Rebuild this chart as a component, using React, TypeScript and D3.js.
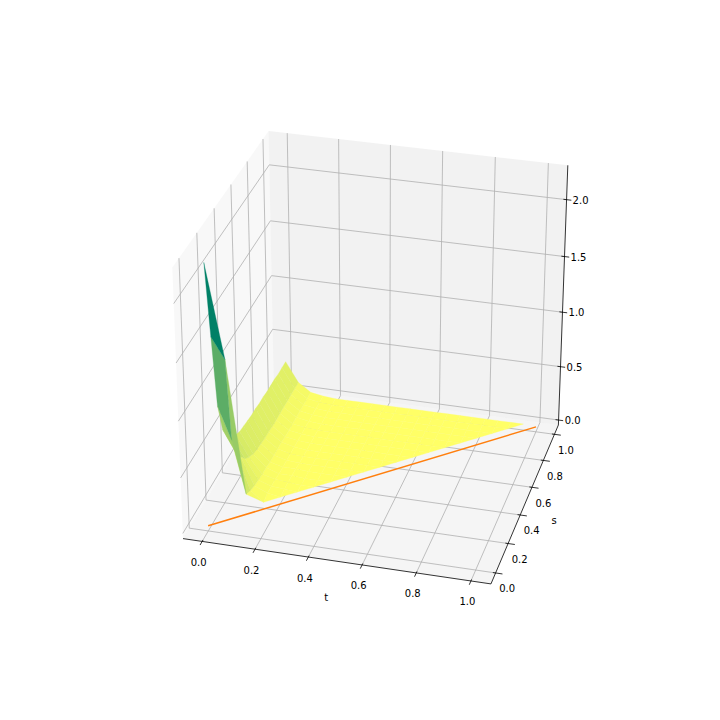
import React from 'react'
import * as d3 from 'd3'

const size = 720

// grid of the surface, only s > t exists
const tValues = [0, 0.05, 0.1, 0.15, 0.2, 0.25, 0.3, 0.35, 0.4, 0.45, 0.5, 0.55, 0.6, 0.65, 0.7, 0.75, 0.8, 0.85, 0.9, 0.95]
const sValues = [0.05, 0.1, 0.15, 0.2, 0.25, 0.3, 0.35, 0.4, 0.45, 0.5, 0.55, 0.6, 0.65, 0.7, 0.75, 0.8, 0.85, 0.9, 0.95, 1]

// z for each t, first value is at s = t + 0.05
const zRows = [
  [2.23, 1.55, 0.89, 0.62, 0.5, 0.43, 0.39, 0.36, 0.35, 0.34, 0.33, 0.33, 0.32, 0.32, 0.31, 0.31, 0.31, 0.3, 0.3, 0.3],
  [1.37, 0.6, 0.42, 0.33, 0.25, 0.2, 0.17, 0.15, 0.14, 0.13, 0.13, 0.12, 0.12, 0.12, 0.12, 0.12, 0.12, 0.12, 0.12],
  [0.13, 0.1, 0.08, 0.07, 0.06, 0.06, 0.05, 0.05, 0.05, 0.05, 0.04, 0.04, 0.04, 0.04, 0.04, 0.04, 0.04, 0.04],
  [0.01, 0.03, 0.03, 0.03, 0.02, 0.02, 0.02, 0.02, 0.02, 0.02, 0.02, 0.02, 0.02, 0.02, 0.02, 0.02, 0.02],
  [0.01, 0.02, 0.02, 0.02, 0.02, 0.01, 0.01, 0.01, 0.01, 0.01, 0.01, 0.01, 0.01, 0.01, 0.01, 0.01],
  [0.01, 0.01, 0.01, 0.01, 0.01, 0.01, 0.01, 0.01, 0.01, 0.01, 0.01, 0.01, 0.01, 0.01, 0.01],
  [0.01, 0.01, 0.01, 0.01, 0.01, 0.01, 0.01, 0.01, 0.01, 0.01, 0.01, 0.01, 0.01, 0.01],
  [0.01, 0.01, 0.01, 0.01, 0.01, 0.01, 0.01, 0.01, 0.01, 0.01, 0.01, 0.01, 0.01],
  [0.01, 0.01, 0.01, 0.01, 0.01, 0.01, 0.01, 0.01, 0.01, 0.01, 0.01, 0.01],
  [0.01, 0.01, 0.01, 0.01, 0.01, 0.01, 0.01, 0.01, 0.01, 0.01, 0.01],
  [0.01, 0.01, 0.01, 0.01, 0.01, 0.01, 0.01, 0.01, 0.01, 0.01],
  [0.01, 0.01, 0.01, 0.01, 0.01, 0.01, 0.01, 0.01, 0.01],
  [0.01, 0.01, 0.01, 0.01, 0.01, 0.01, 0.01, 0.01],
  [0.01, 0.01, 0.01, 0.01, 0.01, 0.01, 0.01],
  [0.01, 0.01, 0.01, 0.01, 0.01, 0.01],
  [0.01, 0.01, 0.01, 0.01, 0.01],
  [0.01, 0.01, 0.01, 0.01],
  [0.01, 0.01, 0.01],
  [0.01, 0.01],
  [0.01],
]

// orange line on the floor
const lineT = [0, 1]
const lineS = [0, 1]
const lineZ = [0, 0]

const tTicks = [0, 0.2, 0.4, 0.6, 0.8, 1]
const sTicks = [0, 0.2, 0.4, 0.6, 0.8, 1]
const zTicks = [0, 0.5, 1, 1.5, 2]

const elev = (30 * Math.PI) / 180
const azim = (-75 * Math.PI) / 180
const dist = 10

const tLim = [-0.05, 1.05]
const sLim = [-0.05, 1.05]
const zLim = [0, 2.25]

// panes stick out 1/48 past the limits, like mplot3d
const pad = (l: number[]) => [l[0] - (l[1] - l[0]) / 48, l[1] + (l[1] - l[0]) / 48]
const [t0, t1] = pad(tLim)
const [s0, s1] = pad(sLim)
const [z0, z1] = pad(zLim)

const tScale = d3.scaleLinear().domain(tLim).range([-0.5, 0.5])
const sScale = d3.scaleLinear().domain(sLim).range([-0.5, 0.5])
const zScale = d3.scaleLinear().domain(zLim).range([-0.5, 0.5])
const screenX = d3.scaleLinear().domain([-0.095, 0.09]).range([90, 648])
const screenY = d3.scaleLinear().domain([-0.095, 0.09]).range([630, 86.4])

const n = [Math.cos(elev) * Math.cos(azim), Math.cos(elev) * Math.sin(azim), Math.sin(elev)]
const u = [-Math.sin(azim), Math.cos(azim), 0]
const v = [n[1] * u[2] - n[2] * u[1], n[2] * u[0] - n[0] * u[2], n[0] * u[1] - n[1] * u[0]]
const dot = (a: number[], b: number[]) => a[0] * b[0] + a[1] * b[1] + a[2] * b[2]

type P3 = [number, number, number]

const depth = (p: P3) => dist - dot(n, [tScale(p[0]), sScale(p[1]), zScale(p[2])])
const project = (p: P3): [number, number] => {
  const w = [tScale(p[0]), sScale(p[1]), zScale(p[2])]
  const d = dist - dot(n, w)
  return [screenX(dot(u, w) / d), screenY(dot(v, w) / d)]
}

const line3 = (pts: P3[], close = false) => d3.line()(pts.map(project)) + (close ? 'Z' : '')

// one polygon per grid cell, the cell next to the diagonal is a triangle
const zAt = (i: number, j: number) => {
  const row = zRows[i]
  const k = j - i
  return row && k >= 0 ? row[k] : undefined
}
const cells: { pts: P3[]; avg: number; far: number }[] = []
tValues.forEach((t, i) => {
  sValues.forEach((s, j) => {
    const corners: [number, number][] = [[i, j], [i + 1, j], [i + 1, j + 1], [i, j + 1]]
    const pts: P3[] = []
    corners.forEach(([a, b]) => {
      const z = zAt(a, b)
      if (z !== undefined && a < tValues.length && b < sValues.length) pts.push([tValues[a], sValues[b], z])
    })
    if (pts.length < 3) return
    cells.push({
      pts,
      avg: d3.mean(pts, p => p[2]) as number,
      far: d3.mean(pts, depth) as number,
    })
  })
})
cells.sort((a, b) => b.far - a.far)

// summer_r, scaled on the polygon averages
const colorNorm = d3.scaleLinear().domain(d3.extent(cells, c => c.avg) as [number, number]).range([0, 1])
const summerR = (z: number) => {
  const c = colorNorm(z)
  return d3.rgb(255 * (1 - c), 255 * (1 - 0.5 * c), 102).formatHex()
}

const gridColor = '#b0b0b0'

export default function App() {
  const textStyle = { fontFamily: 'DejaVu Sans', fontSize: 10, fill: '#000' }
  return (
    <svg width={size} height={size} style={{ position: 'absolute', left: 0, top: 0, background: '#fff' }}>
      {/* panes */}
      <path d={line3([[t0, s0, z0], [t0, s1, z0], [t0, s1, z1], [t0, s0, z1]], true)} fill="#f2f2f2" fillOpacity={0.5} />
      <path d={line3([[t0, s1, z0], [t1, s1, z0], [t1, s1, z1], [t0, s1, z1]], true)} fill="#e6e6e6" fillOpacity={0.5} />
      <path d={line3([[t0, s0, z0], [t1, s0, z0], [t1, s1, z0], [t0, s1, z0]], true)} fill="#ececec" fillOpacity={0.5} />

      {/* grid */}
      <g fill="none" stroke={gridColor} strokeWidth={0.8}>
        {tTicks.map(t => <path key={'gt' + t} d={line3([[t, s0, z0], [t, s1, z0], [t, s1, z1]])} />)}
        {sTicks.map(s => <path key={'gs' + s} d={line3([[t1, s, z0], [t0, s, z0], [t0, s, z1]])} />)}
        {zTicks.map(z => <path key={'gz' + z} d={line3([[t1, s1, z], [t0, s1, z], [t0, s0, z]])} />)}
      </g>

      {/* axis lines and ticks */}
      <g fill="none" stroke="#000" strokeWidth={0.8}>
        <path d={line3([[t0, s0, z0], [t1, s0, z0]])} />
        <path d={line3([[t1, s0, z0], [t1, s1, z0]])} />
        <path d={line3([[t1, s1, z0], [t1, s1, z1]])} />
        {tTicks.map(t => <path key={'tt' + t} d={line3([[t, s0 + 0.01, z0], [t, s0 - 0.025, z0]])} />)}
        {sTicks.map(s => <path key={'ts' + s} d={line3([[t1 - 0.01, s, z0], [t1 + 0.025, s, z0]])} />)}
        {zTicks.map(z => <path key={'tz' + z} d={line3([[t1 - 0.012, s1, z], [t1 + 0.018, s1, z]])} />)}
      </g>

      {/* surface */}
      <g>
        {cells.map((c, i) => (
          <path key={i} d={line3(c.pts, true)} fill={summerR(c.avg)} stroke={summerR(c.avg)} strokeWidth={0.3} />
        ))}
      </g>

      <path
        d={line3(lineT.map((t, i) => [t, lineS[i], lineZ[i]] as P3))}
        fill="none"
        stroke="#ff7f0e"
        strokeWidth={1.5}
      />

      {/* tick labels */}
      <g style={textStyle} textAnchor="middle" dominantBaseline="central">
        {tTicks.map(t => {
          const [x, y] = project([t, s0, z0])
          return <text key={t} x={x - 3.5} y={y + 21}>{t.toFixed(1)}</text>
        })}
        {sTicks.map(s => {
          const [x, y] = project([t1, s, z0])
          return <text key={s} x={x + 11.5} y={y + 16}>{s.toFixed(1)}</text>
        })}
        {zTicks.map(z => {
          const [x, y] = project([t1, s1, z])
          return <text key={z} x={x + 14} y={y + 0.7}>{z.toFixed(1)}</text>
        })}
        <text x={project([0.5, s0, z0])[0] - 9} y={project([0.5, s0, z0])[1] + 37}>t</text>
        <text x={project([t1, 0.5, z0])[0] + 28} y={project([t1, 0.5, z0])[1] + 19}>s</text>
      </g>
    </svg>
  )
}
